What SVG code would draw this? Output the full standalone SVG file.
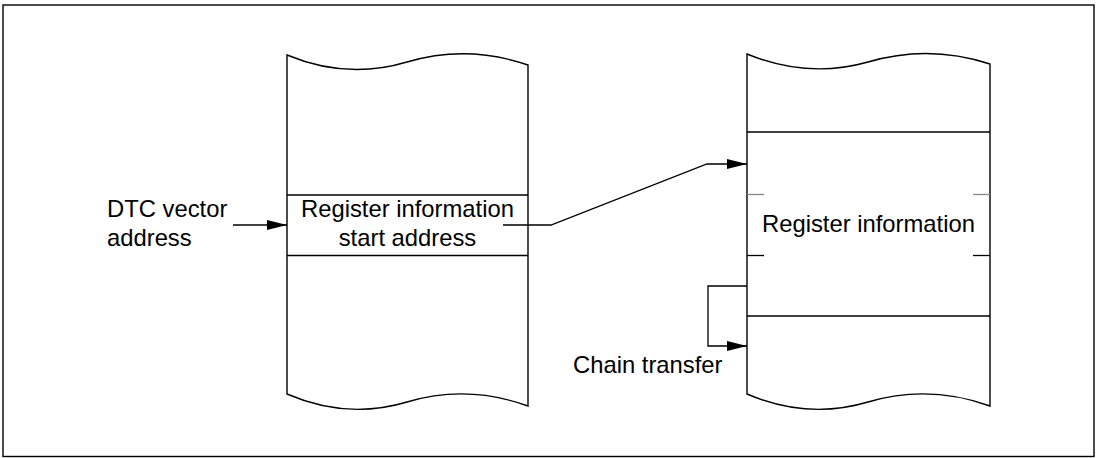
<svg xmlns="http://www.w3.org/2000/svg" width="1098" height="458" viewBox="0 0 1098 458">
<style>
.ln{fill:none;stroke:#000;stroke-width:1.3}
.doc{fill:#fff;stroke:#000;stroke-width:1.4}
.t{font-family:"Liberation Sans",Arial,sans-serif;font-size:23.8px;fill:#000}
</style>
<defs>
<marker id="ah" viewBox="0 0 20 10" refX="20" refY="5" markerWidth="20" markerHeight="10" markerUnits="userSpaceOnUse" orient="auto">
<path d="M0,0 L20,5 L0,10 Z" fill="#000"/>
</marker>
</defs>
<rect x="3" y="5" width="1091" height="451.5" fill="#fff" stroke="#000" stroke-width="1.4"/>
<g id="memory-left">
<path class="doc" d="M287,55 Q347,80 407,62 Q467,44 528,65 L528,406 Q467,384 407,402 Q347,420 287,394 Z"/>
<line class="ln" x1="287" y1="195" x2="528" y2="195"/>
<line class="ln" x1="287" y1="255.5" x2="528" y2="255.5"/>
<text class="t" x="407.5" y="217" text-anchor="middle">Register information</text>
<text class="t" x="407.5" y="246" text-anchor="middle">start address</text>
</g>
<g id="memory-right">
<path class="doc" d="M747,54 Q808,79 868,62 Q929,44 990,64 L990,406 Q929,384 868,402 Q808,420 747,394 Z"/>
<line class="ln" x1="747" y1="132" x2="990" y2="132"/>
<line class="ln" x1="747" y1="316" x2="990" y2="316"/>
<line x1="747" y1="194.5" x2="764" y2="194.5" stroke="#888" stroke-width="1.3"/>
<line x1="973" y1="194.5" x2="990" y2="194.5" stroke="#888" stroke-width="1.3"/>
<line class="ln" x1="747" y1="255.5" x2="764" y2="255.5"/>
<line class="ln" x1="973" y1="255.5" x2="990" y2="255.5"/>
<text class="t" x="868.5" y="232" text-anchor="middle">Register information</text>
</g>
<g id="label-dtc">
<text class="t" x="107" y="217">DTC vector</text>
<text class="t" x="107" y="246">address</text>
</g>
<g id="label-chain">
<text class="t" x="573" y="373">Chain transfer</text>
</g>
<g id="connectors">
<line class="ln" x1="233" y1="225" x2="287" y2="225" marker-end="url(#ah)"/>
<polyline class="ln" points="503,225 551,225 707,164 747,164" marker-end="url(#ah)"/>
<polyline class="ln" points="747,286 708,286 708,346 747,346" marker-end="url(#ah)"/>
</g>
</svg>
